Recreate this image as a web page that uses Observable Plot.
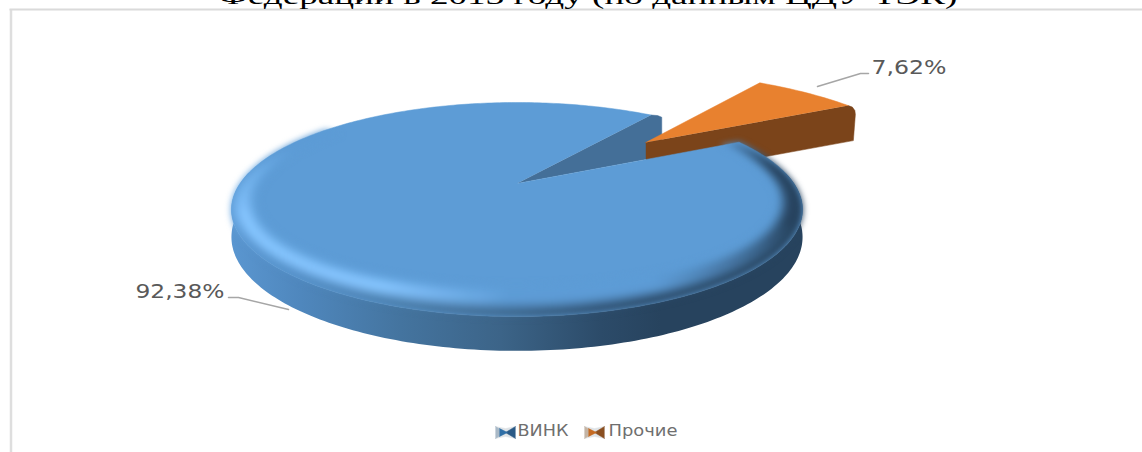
<!DOCTYPE html>
<html><head><meta charset="utf-8">
<script src="https://cdn.jsdelivr.net/npm/d3@7"></script>
<script src="https://cdn.jsdelivr.net/npm/@observablehq/plot@0.6"></script>
<style>html,body{margin:0;padding:0;background:#fff;overflow:hidden}svg{display:block}</style>
</head><body><div id="chart"></div>
<script>
const categories = ["ВИНК", "Прочие"];
const shares = [92.38, 7.62];
const titleText = "Федерации в 2013 году (по данным ЦДУ ТЭК)";

// ---- projection of the tilted pie ----
const cx = 516.5, cy = 183, rx = 277, ay = 100.7, k = 0.243, drop = 26;
const rad = Math.PI / 180;
const startA = 62.9 * rad;
const proj = (u, v, d = 0) => { const f = 1 / (1 - k * v); return [cx + rx * u * f, cy + ay * v * f + d * f]; };
const polar = (a, r, d = 0) => proj(r * Math.sin(a), -r * Math.cos(a), d);
const slices = d3.pie().sort(null).startAngle(startA).endAngle(startA + 2 * Math.PI)(shares);
const [blue, orange] = slices;
const rangeA = (a0, a1, step) => { const n = Math.ceil((a1 - a0) / step); return d3.range(n + 1).map(i => a0 + (a1 - a0) * i / n); };

// colours
const F = "#5d9cd6", BRIGHT = "#86c6ff", DARK = "#27435e";
const sideStops = [[232, "#5a96d0"], [300, "#4f87bd"], [400, "#44749f"], [500, "#3c6488"], [600, "#2c4b69"], [660, "#27435e"], [802, "#27435e"]];
const sideColor = d3.scaleLinear().domain(sideStops.map(d => d[0])).range(sideStops.map(d => d[1])).clamp(true);
const mix = (a, b, t) => d3.interpolateRgb(a, b)(Math.max(0, Math.min(1, t)));
const smooth = t => { t = Math.max(0, Math.min(1, t)); return t * t * (3 - 2 * t); };

// blue slice: top face, side wall, bevel
const topPoly = [polar(0, 0), ...rangeA(blue.startAngle, blue.endAngle, rad).map(a => polar(a, 1))];
const sideAngs = rangeA(blue.startAngle, blue.endAngle, rad).filter(a => -Math.cos(a) > -0.12);
const sidePoly = [...sideAngs.map(a => polar(a, 1)), ...sideAngs.slice().reverse().map(a => polar(a, 1, drop))];
const mesh = [];
let id = 0;
const quad = (p, c) => { id++; for (const q of [...p, p[0]]) mesh.push({x: q[0], y: q[1], id, c}); };
const angs = rangeA(blue.startAngle, blue.endAngle, 1.6 * rad);
for (let i = 0; i < angs.length - 1; i++) {
  const a0 = angs[i], a1 = angs[i + 1], am = (a0 + a1) / 2;
  const u = Math.sin(am), v = -Math.cos(am);
  const strength = smooth((v + 0.62) / 0.5);
  if (strength <= 0) continue;
  const l = -0.85 * u + 0.53 * v;
  const hi = (l - 0.55) / 0.3 * (0.55 + 0.45 * smooth(v / 0.7));
  const ridge = l >= 0.55 ? mix(F, BRIGHT, hi) : l < 0.1 ? mix(F, DARK, (0.1 - l) / 0.7) : F;
  const side = sideColor(polar(am, 1)[0]);
  const r0 = a => 0.915 - 0.105 * Math.max(0, -Math.cos(a)) ** 2;
  const peak = 0.65 - 0.2 * Math.max(0, v);
  const rows = 8;
  for (let j = 0; j < rows; j++) {
    const s0 = j / rows, s1 = (j + 1) / rows, s = (s0 + s1) / 2;
    let c = s < peak ? mix(F, ridge, smooth(s / peak)) : mix(ridge, side, smooth((s - peak) / (1 - peak)) * Math.min(1, 0.35 + Math.max(0, v) * 1.2));
    c = mix(F, c, strength);
    const P = (a, t) => polar(a, r0(a) + (1 - r0(a)) * t);
    quad([P(a0, s0), P(a1, s0), P(a1, s1), P(a0, s1)], c);
  }
}

// cut wall of the blue slice
const th0 = orange.startAngle - 2 * Math.PI, th1 = orange.endAngle - 2 * Math.PI;
const wall = [polar(0, 0), polar(th0, 1), polar(th0 + 1.5 * rad, 1.01), polar(th0 + 3 * rad, 1), polar(th0 + 3 * rad, 1, drop), polar(th1, 0.58)];

// exploded orange slice
const ou = 0.516, ov = -0.452, os = 1.08, oDepth = 36;
const oP = (a, r) => proj(ou + os * r * Math.sin(a), ov - os * r * Math.cos(a));
const oTop = [oP(0, 0), ...rangeA(th0 + rad, th1 - 0.5 * rad, 2 * rad).map(a => oP(a, 1))];
const A = oP(0, 0), C = oP(th1 - 0.5 * rad, 1);
const oSide = [A, C, [C[0] + 4, C[1] + 1.5], [C[0] + 6.5, C[1] + 5], [C[0] + 7, C[1] + 9], [C[0] + 5, C[1] + oDepth - 1], [A[0], A[1] + oDepth]];

// legend swatches
const swatch = (x0, y0, cL, cC, cR) => {
  const w = 20, h = 12, xm = x0 + w / 2, ym = y0 + h / 2;
  return [
    {p: [[x0, y0], [xm, y0 + 2], [x0 + w, y0], [x0 + w, y0 + h], [xm, y0 + h - 2], [x0, y0 + h]], c: "#dfe3e6"},
    {p: [[x0, y0], [xm, ym], [x0, y0 + h]], c: cL},
    {p: [[x0 + w, y0], [xm, ym], [x0 + w, y0 + h]], c: cR},
    {p: [[xm - 6, y0 + 2], [xm + 2, ym], [xm - 6, y0 + h - 2]], c: cC}
  ];
};
const swatches = [...swatch(495, 426, "#a9b9c7", "#2e6ea6", "#2a5a86"), ...swatch(584, 426, "#c4b4a4", "#c56a22", "#8a4f20")];

const gradient = () => {
  const svg = d3.create("svg:defs");
  const g = svg.append("linearGradient").attr("id", "sideGrad").attr("gradientUnits", "userSpaceOnUse")
    .attr("x1", 232).attr("x2", 802).attr("y1", 0).attr("y2", 0);
  for (const [x, c] of sideStops) g.append("stop").attr("offset", (x - 232) / 570).attr("stop-color", c);
  return svg.node();
};
const polyMark = (pts, fill, extra = {}) => Plot.line(pts, {x: d => d[0], y: d => d[1], fill, stroke: fill, strokeWidth: 0.5, ...extra});
const fit = (len) => (index, scales, values, dims, ctx, next) => {
  const g = next(index, scales, values, dims, ctx);
  d3.select(g).selectAll("text").attr("textLength", len).attr("lengthAdjust", "spacingAndGlyphs");
  return g;
};
const blur = (px) => (index, scales, values, dims, ctx, next) => {
  const g = next(index, scales, values, dims, ctx);
  g.style.filter = `blur(${px}px)`;
  return g;
};
const label = (txt, x, y, len, size, family, fill, anchor = "middle") =>
  Plot.text([txt], {x: () => x, y: () => y, text: d => d, fontSize: size, fontFamily: family, fill, textAnchor: "start", lineAnchor: anchor, render: fit(len)});
const fmt = v => v.toFixed(2).replace(".", ",") + "%";

const chart = Plot.plot({
  width: 1142, height: 452, margin: 0,
  x: {domain: [0, 1142], range: [0, 1142], axis: null},
  y: {domain: [0, 452], range: [0, 452], axis: null},
  color: {type: "identity"},
  style: {background: "#fff"},
  marks: [
    gradient,
    Plot.ruleX([10.5], {y1: 9, y2: 452, stroke: "#dedede", strokeWidth: 2.5}),
    Plot.ruleY([9], {x1: 9.5, x2: 1142, stroke: "#dadada", strokeWidth: 2}),
    label(titleText, 218, 3.5, 739, 24, "Liberation Serif", "#000", "bottom"),
    polyMark(wall, "#446f98"),
    polyMark(oSide, "#7b441a"),
    polyMark(oTop, "#e8812f"),
    polyMark(sidePoly, "url(#sideGrad)", {stroke: "none"}),
    polyMark(topPoly, F),
    Plot.line(mesh, {x: "x", y: "y", z: "id", fill: "c", stroke: "c", strokeWidth: 0.8, render: blur(3)}),
    Plot.line([[817, 86], [860, 73], [868, 73]], {x: d => d[0], y: d => d[1], stroke: "#a6a6a6", strokeWidth: 1.5}),
    Plot.line([[228, 297], [238, 297], [288, 309]], {x: d => d[0], y: d => d[1], stroke: "#a6a6a6", strokeWidth: 1.5}),
    label(fmt(shares[1]), 871, 67, 75, 20, "DejaVu Sans", "#595959"),
    label(fmt(shares[0]), 135, 291, 89, 20, "DejaVu Sans", "#595959"),
    ...swatches.map(s => polyMark(s.p, s.c)),
    label(categories[0], 517, 431, 51, 15, "DejaVu Sans", "#6f6f6f"),
    label(categories[1], 608, 431, 69, 15, "DejaVu Sans", "#6f6f6f")
  ]
});
document.getElementById("chart").append(chart);
</script></body></html>
